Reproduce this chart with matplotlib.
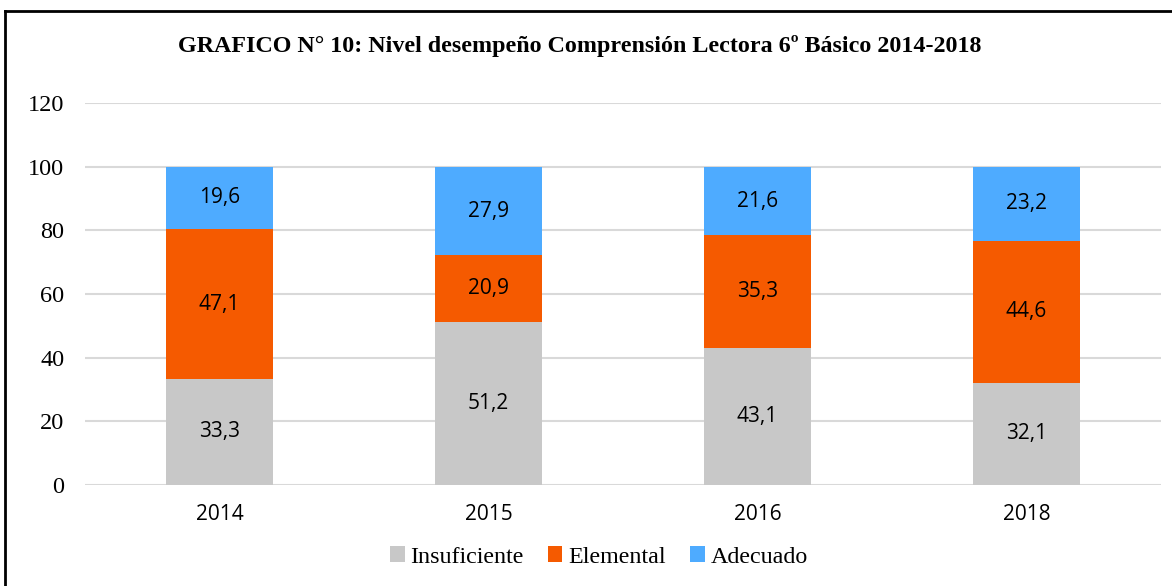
import matplotlib
matplotlib.use("Agg")
import matplotlib.pyplot as plt
from matplotlib.lines import Line2D
import numpy as np

years = ["2014", "2015", "2016", "2018"]
insuficiente = [33.3, 51.2, 43.1, 32.1]
elemental = [47.1, 20.9, 35.3, 44.6]
adecuado = [19.6, 27.9, 21.6, 23.2]
series_names = ["Insuficiente", "Elemental", "Adecuado"]
colors = ["#c8c8c8", "#f55a00", "#4eabff"]
yticks = [0, 20, 40, 60, 80, 100, 120]

fig = plt.figure(figsize=(11.72, 5.86), dpi=100)
ax = fig.add_axes([85/1172, 101/586, (1161-85)/1172, (485-103)/586])

x = np.arange(len(years))
bottom = np.zeros(len(years))
for vals, name, c in zip([insuficiente, elemental, adecuado], series_names, colors):
    ax.bar(x, vals, width=0.4, bottom=bottom, color=c, label=name, zorder=3)
    for xi, b, v in zip(x, bottom, vals):
        ax.text(xi, b + v/2, f"{v:.1f}".replace(".", ","), ha="center", va="center",
                fontsize=15, family="Open Sans", color="black", zorder=4)
    bottom += np.array(vals)

ax.set_xlim(-0.5, len(years) - 0.5)
ax.set_ylim(0, 120)
ax.set_yticks(yticks)
ax.set_yticklabels([str(t) for t in yticks], family="Liberation Serif", fontsize=17.5)
ax.set_xticks(x)
ax.set_xticklabels(years, family="Open Sans", fontsize=15)
ax.tick_params(axis="both", length=0)
ax.tick_params(axis="y", pad=15)
ax.tick_params(axis="x", pad=14)
ax.grid(axis="y", color="#d9d9d9", linewidth=1.5, zorder=0)
for s in ax.spines.values():
    s.set_visible(False)

fig.text(580/1172, 1 - 46/586, "GRAFICO N° 10: Nivel desempeño Comprensión Lectora 6º Básico 2014-2018",
         ha="center", va="center", family="Liberation Serif", fontweight="bold", fontsize=17.3)

fig.legend(loc="center", bbox_to_anchor=(599/1172, 1 - 557/586), ncol=3, frameon=False,
           prop={"family": "Liberation Serif", "size": 17.3}, handlelength=0.6, handleheight=0.6,
           handletextpad=0.25, columnspacing=1.0)

# figure frame lines (top and left)
fig.add_artist(Line2D([5/1172, 1], [1 - 11/586, 1 - 11/586], transform=fig.transFigure, color="black", lw=2))
fig.add_artist(Line2D([5/1172, 5/1172], [0, 1 - 11/586], transform=fig.transFigure, color="black", lw=2))

fig.savefig("out.png", dpi=100)
